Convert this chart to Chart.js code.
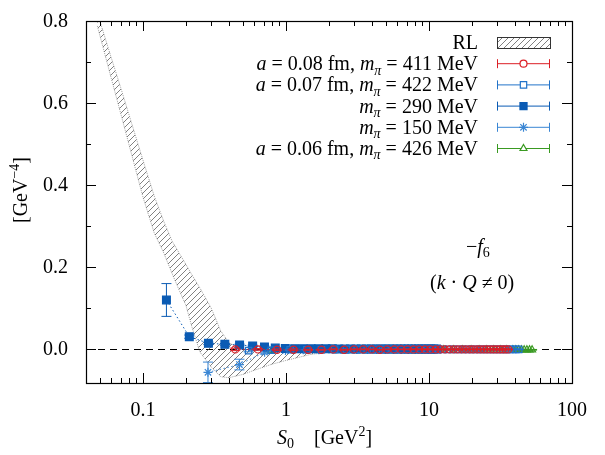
<!DOCTYPE html>
<html>
<head>
<meta charset="utf-8">
<script src="https://cdn.jsdelivr.net/npm/chart.js@4.4.0/dist/chart.umd.min.js"></script>
<style>
html, body { margin: 0; padding: 0; background: #fff; }
#wrap { width: 605px; height: 455px; }
</style>
</head>
<body>
<div id="wrap"><canvas id="c" width="605" height="455"></canvas></div>
<script>
// RL band (lower / upper edge)
const rlX  = [0.048, 0.05, 0.06, 0.07, 0.08, 0.1, 0.12, 0.14, 0.16, 0.18, 0.2, 0.22, 0.25, 0.3, 0.35, 0.4, 0.5, 0.6, 0.8, 1, 1.5, 2, 3, 5, 10, 20, 50];
const rlLo = [0.788, 0.765, 0.661, 0.574, 0.498, 0.371, 0.283, 0.234, 0.184, 0.142, 0.106, 0.054, -0.007, -0.044, -0.068, -0.070, -0.062, -0.052, -0.037, -0.028, -0.013, -0.008, -0.005, -0.004, -0.003, -0.003, -0.002];
const rlHi = [0.820, 0.800, 0.711, 0.637, 0.571, 0.461, 0.373, 0.311, 0.263, 0.233, 0.206, 0.181, 0.149, 0.100, 0.044, 0.015, -0.002, -0.004, -0.005, -0.004, -0.003, -0.002, -0.002, -0.001, -0.001, -0.001, -0.001];

// a = 0.08 fm, m_pi = 411 MeV
const redX = [0.442, 0.637, 0.867, 1.13, 1.43, 1.77, 2.14, 2.55, 2.99, 3.47, 3.98, 4.53, 5.11, 5.73, 6.39, 7.08, 7.80, 8.56, 9.36, 10.2,
              11.1, 12.0, 12.9, 13.9, 14.9, 15.9, 17.0, 18.1, 19.3, 20.4, 21.7, 22.9, 24.2, 25.5, 26.9, 28.3, 29.7, 31.2, 32.7, 34.2, 35.8];
const redY = [-0.001, -0.001, -0.002, -0.002, -0.002, -0.002, -0.001, -0.002, -0.001, -0.001, -0.001, -0.002, -0.001, -0.001, -0.001, -0.001, -0.001, -0.001, -0.001, -0.001,
              -0.001, -0.001, -0.001, -0.001, -0.001, -0.001, -0.001, -0.001, -0.001, -0.001, -0.001, -0.001, -0.001, -0.001, -0.001, -0.001, -0.001, -0.001, -0.001, -0.001, -0.001];
const redErr = [0.003, 0.002, 0.002, 0.002, 0.001, 0.001, 0.001, 0.001, 0.001, 0.001];

// a = 0.07 fm, m_pi = 422 MeV
const openX = [0.548, 0.789, 1.07, 1.40, 1.77, 2.19, 2.65, 3.15, 3.70, 4.29, 4.93, 5.61, 6.33, 7.10, 7.91, 8.76, 9.66, 10.6, 11.6, 12.6,
               13.7, 14.8, 16.0, 17.2, 18.4, 19.7, 21.0, 22.4, 23.8, 25.3, 26.8, 28.4, 30.0, 31.6, 33.3, 35.0, 36.8, 38.6, 40.5, 42.4];
const openY = [-0.004, -0.003, -0.002, -0.002, -0.002, -0.001, -0.001, -0.001, -0.001, -0.001, -0.001, -0.001, -0.001, -0.001, -0.001, -0.001, -0.001, -0.001, -0.001, -0.001,
               -0.001, -0.001, -0.001, -0.001, -0.001, -0.001, -0.001, -0.001, -0.001, -0.001, -0.001, -0.001, -0.001, -0.001, -0.001, -0.001, -0.001, -0.001, -0.001, -0.001];
const openErr = [0.003, 0.002, 0.002, 0.001, 0.001, 0.001, 0.001, 0.001];

// m_pi = 290 MeV
const filledX = [0.146, 0.211, 0.287, 0.374, 0.474, 0.585, 0.708, 0.842, 0.989, 1.15, 1.32, 1.50, 1.69, 1.90, 2.11, 2.34, 2.58, 2.83, 3.09, 3.37,
                 3.65, 3.95, 4.26, 4.59, 4.92, 5.27, 5.62, 5.99, 6.37, 6.76, 7.16, 7.58, 8.00, 8.45, 8.90, 9.36, 9.83, 10.3, 10.8, 11.3];
const filledY = [0.1195, 0.030, 0.0138, 0.0114, 0.0098, 0.0073, 0.0050, 0.0022, 0.0012, 0.0008, 0.0006, 0.0005, 0.0004, 0.0003, 0.0003, 0.0002, 0.0002, 0.0001, 0.0001, 0.0001,
                 0, 0, 0, 0, 0, 0, 0, 0, 0, 0, 0, 0, 0, 0, 0, 0, 0, 0, 0, 0];
const filledErr = [0.040, 0.004, 0.003, 0.002, 0.002, 0.002, 0.002, 0.002, 0.001, 0.001];

// m_pi = 150 MeV
const starX = [0.285, 0.473, 0.709, 0.992, 1.32, 1.70, 2.13, 2.60, 3.12, 3.69, 4.30, 4.96, 5.66, 6.41, 7.21, 8.05, 8.94, 9.87, 10.85];
const starY = [-0.057, -0.038, -0.008, -0.004, -0.002, -0.002, -0.001, -0.001, -0.001, -0.001, -0.001, -0.001, -0.001, -0.001, -0.001, -0.001, -0.001, -0.001, -0.001];
const starErr = [0.025, 0.013, 0.004, 0.003, 0.002, 0.002, 0.001, 0.001];

// a = 0.06 fm, m_pi = 426 MeV
const greenX = [0.79, 1.07, 1.40, 1.77, 2.19, 2.65, 3.15, 3.70, 4.29, 4.93, 5.61, 6.33, 7.10, 7.91, 8.76, 10.6, 12.6, 14.8, 17.2, 19.7,
                22.4, 25.3, 28.4, 31.6, 35.0, 38.6, 40.5, 42.4, 44.3, 46.3, 48.4, 50.5, 52.6];
const greenY = [-0.005, -0.003, -0.003, -0.002, -0.002, -0.002, -0.002, -0.002, -0.002, -0.002, -0.002, -0.002, -0.002, -0.002, -0.002, -0.002, -0.002, -0.002, -0.002, -0.002,
                -0.002, -0.002, -0.002, -0.002, -0.002, -0.002, -0.002, -0.002, -0.002, -0.002, -0.002, -0.002, -0.002];
const greenErr = [0.003, 0.002, 0.002, 0.002, 0.001, 0.001];

// ticks
const xMajor = [0.1, 1, 10, 100];
const xLabels = ['0.1', '1', '10', '100'];
const xMinor = [0.04, 0.05, 0.06, 0.07, 0.08, 0.09, 0.2, 0.3, 0.4, 0.5, 0.6, 0.7, 0.8, 0.9,
                2, 3, 4, 5, 6, 7, 8, 9, 20, 30, 40, 50, 60, 70, 80, 90];
const yMajor = [0, 0.2, 0.4, 0.6, 0.8];
const yLabels = ['0.0', '0.2', '0.4', '0.6', '0.8'];
const yMinor = [0.1, 0.3, 0.5, 0.7];

const RED = '#dc1f26', OPENB = '#2273c9', FILLB = '#0a5bb4', STARB = '#3a86d4', GREEN = '#3a9a22';
const FONT = "'Liberation Serif', serif";
const FS = 20;

function pts(xs, ys) {
    return xs.map((x, i) => ({ x: x, y: ys[i] }));
}

function hatchPattern() {
    const c = document.createElement('canvas');
    c.width = 6; c.height = 6;
    const g = c.getContext('2d');
    g.strokeStyle = '#4a4a4a';
    g.lineWidth = 0.7;
    g.beginPath();
    g.moveTo(0, 6); g.lineTo(6, 0);
    g.moveTo(-1, 1); g.lineTo(1, -1);
    g.moveTo(5, 7); g.lineTo(7, 5);
    g.stroke();
    return g.createPattern(c, 'repeat');
}
const hatch = hatchPattern();

function series(label, xs, ys, errs, color, style, radius, filled, order) {
    return {
        label: label,
        data: pts(xs, ys),
        errs: errs,
        showLine: true,
        borderColor: color,
        borderWidth: 1,
        borderDash: [1.5, 2.5],
        pointStyle: style,
        pointRadius: radius,
        pointBorderColor: color,
        pointBackgroundColor: filled ? color : 'rgba(0,0,0,0)',
        pointBorderWidth: 1.2,
        fill: false,
        order: order
    };
}

// rich text: parts = [{t, i, sub, sup}]
function partFont(p) {
    const sz = (p.sub || p.sup) ? FS * 0.7 : FS;
    return (p.i ? 'italic ' : '') + sz + 'px ' + FONT;
}
function richWidth(ctx, parts) {
    let w = 0;
    parts.forEach(p => { ctx.font = partFont(p); w += ctx.measureText(p.t).width; });
    return w;
}
function richText(ctx, parts, x, y, align) {
    const w = richWidth(ctx, parts);
    let cx = align === 'right' ? x - w : (align === 'center' ? x - w / 2 : x);
    ctx.textBaseline = 'alphabetic';
    ctx.textAlign = 'left';
    parts.forEach(p => {
        ctx.font = partFont(p);
        let dy = 0;
        if (p.sub) dy = FS * 0.22;
        if (p.sup) dy = -FS * 0.38;
        ctx.fillText(p.t, cx, y + dy);
        cx += ctx.measureText(p.t).width;
    });
}

const legendItems = [
    { parts: [{ t: 'RL' }], rl: true },
    { parts: [{ t: 'a', i: 1 }, { t: ' = 0.08 fm, ' }, { t: 'm', i: 1 }, { t: 'π', i: 1, sub: 1 }, { t: ' = 411 MeV' }], color: RED, style: 'circle', r: 3.5, filled: false },
    { parts: [{ t: 'a', i: 1 }, { t: ' = 0.07 fm, ' }, { t: 'm', i: 1 }, { t: 'π', i: 1, sub: 1 }, { t: ' = 422 MeV' }], color: OPENB, style: 'rect', r: 4.5, filled: false },
    { parts: [{ t: 'm', i: 1 }, { t: 'π', i: 1, sub: 1 }, { t: ' = 290 MeV' }], color: FILLB, style: 'rect', r: 5, filled: true },
    { parts: [{ t: 'm', i: 1 }, { t: 'π', i: 1, sub: 1 }, { t: ' = 150 MeV' }], color: STARB, style: 'star', r: 4.5, filled: false },
    { parts: [{ t: 'a', i: 1 }, { t: ' = 0.06 fm, ' }, { t: 'm', i: 1 }, { t: 'π', i: 1, sub: 1 }, { t: ' = 426 MeV' }], color: GREEN, style: 'triangle', r: 4, filled: false }
];

const framePlugin = {
    id: 'frame',
    beforeDatasetsDraw(chart) {
        const { ctx, chartArea: a, scales: { y } } = chart;
        const y0 = Math.round(y.getPixelForValue(0)) + 0.5;
        ctx.save();
        ctx.strokeStyle = '#000';
        ctx.lineWidth = 1;
        ctx.setLineDash([7, 5]);
        ctx.beginPath();
        ctx.moveTo(a.left, y0);
        ctx.lineTo(a.right, y0);
        ctx.stroke();
        ctx.restore();
    },
    beforeDatasetDraw(chart, args) {
        const ds = chart.data.datasets[args.index];
        if (!ds.errs) return;
        const { ctx, chartArea: a, scales: { x, y } } = chart;
        ctx.save();
        ctx.beginPath();
        ctx.rect(a.left, a.top, a.right - a.left, a.bottom - a.top);
        ctx.clip();
        ctx.strokeStyle = ds.borderColor;
        ctx.lineWidth = 1;
        ds.data.forEach((p, i) => {
            const e = ds.errs[i] || 0.0008;
            const px = x.getPixelForValue(p.x);
            const y1 = y.getPixelForValue(p.y - e);
            const y2 = y.getPixelForValue(p.y + e);
            ctx.beginPath();
            ctx.moveTo(px, y1); ctx.lineTo(px, y2);
            ctx.moveTo(px - 5, y1); ctx.lineTo(px + 5, y1);
            ctx.moveTo(px - 5, y2); ctx.lineTo(px + 5, y2);
            ctx.stroke();
        });
        ctx.restore();
    },
    afterDraw(chart) {
        const { ctx, chartArea: a, scales: { x, y } } = chart;
        ctx.save();
        ctx.strokeStyle = '#000';
        ctx.lineWidth = 1;
        ctx.beginPath();
        const tx = (v, len) => {
            const px = Math.round(x.getPixelForValue(v)) + 0.5;
            ctx.moveTo(px, a.bottom); ctx.lineTo(px, a.bottom - len);
            ctx.moveTo(px, a.top); ctx.lineTo(px, a.top + len);
        };
        const ty = (v, len) => {
            const py = Math.round(y.getPixelForValue(v)) + 0.5;
            ctx.moveTo(a.left, py); ctx.lineTo(a.left + len, py);
            ctx.moveTo(a.right, py); ctx.lineTo(a.right - len, py);
        };
        xMajor.forEach(v => tx(v, 10));
        xMinor.forEach(v => tx(v, 5));
        yMajor.forEach(v => ty(v, 10));
        yMinor.forEach(v => ty(v, 5));
        ctx.stroke();
        ctx.lineWidth = 1.2;
        ctx.strokeRect(a.left + 0.5, a.top + 0.5, a.right - a.left, a.bottom - a.top);

        // tick labels
        ctx.fillStyle = '#000';
        ctx.font = FS + 'px ' + FONT;
        ctx.textBaseline = 'middle';
        ctx.textAlign = 'right';
        yMajor.forEach((v, i) => ctx.fillText(yLabels[i], 68, y.getPixelForValue(v) + 1));
        ctx.textAlign = 'center';
        xMajor.forEach((v, i) => ctx.fillText(xLabels[i], x.getPixelForValue(v), 411));

        // legend
        const lx = 478, sx0 = 497, sx1 = 550, sxm = 523.5;
        legendItems.forEach((it, k) => {
            const ly = 42.5 + k * 21.2;
            richText(ctx, it.parts, lx, ly + 6.5, 'right');
            if (it.rl) {
                ctx.fillStyle = hatch;
                ctx.fillRect(sx0, ly - 5.5, sx1 - sx0, 11);
                ctx.strokeStyle = '#333';
                ctx.lineWidth = 1;
                ctx.strokeRect(sx0 + 0.5, ly - 5.5 + 0.5, sx1 - sx0, 11);
                ctx.fillStyle = '#000';
                return;
            }
            ctx.strokeStyle = it.color;
            ctx.lineWidth = 1;
            ctx.beginPath();
            ctx.moveTo(sx0, ly); ctx.lineTo(sx1, ly);
            ctx.moveTo(sx0 + 0.5, ly - 4.5); ctx.lineTo(sx0 + 0.5, ly + 4.5);
            ctx.moveTo(sx1 - 0.5, ly - 4.5); ctx.lineTo(sx1 - 0.5, ly + 4.5);
            ctx.stroke();
            ctx.fillStyle = it.filled ? it.color : '#fff';
            ctx.lineWidth = 1.2;
            Chart.helpers.drawPoint(ctx, { pointStyle: it.style, radius: it.r, borderWidth: 1.2, rotation: 0 }, sxm, ly);
            ctx.fillStyle = '#000';
        });

        // annotations
        richText(ctx, [{ t: '−' }, { t: 'f', i: 1 }, { t: '6', sub: 1 }], 466, 253, 'left');
        richText(ctx, [{ t: '(' }, { t: 'k', i: 1 }, { t: ' · ' }, { t: 'Q', i: 1 }, { t: ' ≠ 0)' }], 430, 289, 'left');

        // axis titles
        richText(ctx, [{ t: 'S', i: 1 }, { t: '0', sub: 1 }, { t: '    [GeV' }, { t: '2', sup: 1 }, { t: ']' }], 277, 444, 'left');
        ctx.save();
        ctx.translate(27, 190);
        ctx.rotate(-Math.PI / 2);
        richText(ctx, [{ t: '[GeV' }, { t: '−4', sup: 1 }, { t: ']' }], 0, 0, 'center');
        ctx.restore();
        ctx.restore();
    }
};

new Chart(document.getElementById('c'), {
    type: 'scatter',
    data: {
        datasets: [
            { label: 'RL lo', data: pts(rlX, rlLo), showLine: true, pointRadius: 0, borderColor: '#8c8c8c', borderWidth: 0.8, borderDash: [1, 1], fill: false, order: 10 },
            { label: 'RL hi', data: pts(rlX, rlHi), showLine: true, pointRadius: 0, borderColor: '#8c8c8c', borderWidth: 0.8, borderDash: [1, 1], fill: '-1', backgroundColor: hatch, order: 9 },
            series('a = 0.08 fm', redX, redY, redErr, RED, 'circle', 3.6, false, 1),
            series('a = 0.07 fm', openX, openY, openErr, OPENB, 'rect', 4.5, false, 3),
            series('m = 290 MeV', filledX, filledY, filledErr, FILLB, 'rect', 5.5, true, 4),
            series('m = 150 MeV', starX, starY, starErr, STARB, 'star', 4.5, false, 5),
            series('a = 0.06 fm', greenX, greenY, greenErr, GREEN, 'triangle', 4, false, 6)
        ]
    },
    options: {
        responsive: false,
        animation: false,
        layout: { padding: { left: 0, top: 21, right: 33, bottom: 0 } },
        plugins: { legend: { display: false }, tooltip: { enabled: false } },
        scales: {
            x: {
                type: 'logarithmic',
                min: 0.04,
                max: 100,
                grid: { display: false, drawTicks: false },
                border: { display: false },
                ticks: { display: false },
                afterFit: (s) => { s.height = 72; }
            },
            y: {
                type: 'linear',
                min: -0.083,
                max: 0.8,
                grid: { display: false, drawTicks: false },
                border: { display: false },
                ticks: { display: false },
                afterFit: (s) => { s.width = 86; }
            }
        }
    },
    plugins: [framePlugin]
});
</script>
</body>
</html>
